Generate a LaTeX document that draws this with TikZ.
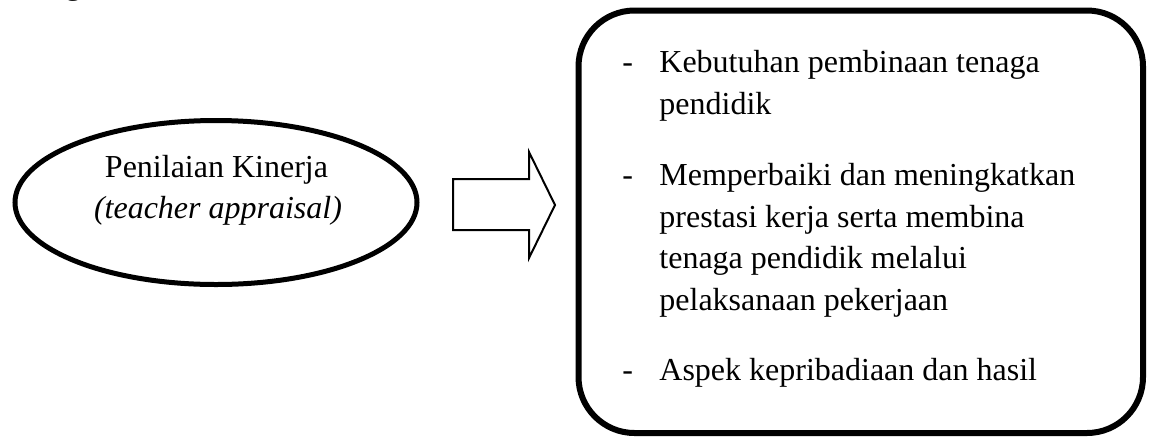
\documentclass[tikz,border=0pt]{standalone}
\usepackage{fontspec}
\setmainfont{Liberation Serif}
\usetikzlibrary{shapes.geometric}
\begin{document}
\begin{tikzpicture}[x=0.5pt,y=-0.5pt,
  ovalline/.style={line width=2.5pt},
  boxline/.style={line width=3pt},
  txt/.style={inner sep=0pt, font=\fontsize{16}{20}\selectfont},
  ltxt/.style={txt, anchor=base west},
]
\useasboundingbox (0,0) rectangle (1149,440);
\begin{scope}
\clip (0,0) rectangle (1149,440);
% cut-off descender of a line above the figure
\node[ltxt] (frag) at (65,-6) {g};
\end{scope}
% left oval
\node[ellipse, draw, ovalline, minimum width=201pt, minimum height=82pt, inner sep=0pt] (oval) at (216,202.5) {};
\node[txt, anchor=base] (t1) at (216.5,177) {Penilaian Kinerja};
\node[txt, anchor=base, font=\fontsize{16}{20}\selectfont\itshape] (t2) at (218,218) {(teacher appraisal)};
% block arrow
\coordinate (a1) at (453,179);
\coordinate (a2) at (529,179);
\coordinate (a3) at (529,152);
\coordinate (a4) at (555,205);
\coordinate (a5) at (529,258);
\coordinate (a6) at (529,230);
\coordinate (a7) at (453,230);
\draw[line width=1pt, line join=miter] (a1) -- (a2) -- (a3) -- (a4) -- (a5) -- (a6) -- (a7) -- cycle;
% right rounded box
\node[draw, boxline, rounded corners=28pt, minimum width=282.25pt, minimum height=211.25pt, inner sep=0pt] (box) at (860.75,221.75) {};
\node[ltxt] (d1) at (622,72.5) {-};
\node[ltxt] (l1) at (659,72.5) {Kebutuhan pembinaan tenaga};
\node[ltxt] (l2) at (659,114) {pendidik};
\node[ltxt] (d2) at (622,185.5) {-};
\node[ltxt] (l3) at (659,185.5) {Memperbaiki dan meningkatkan};
\node[ltxt] (l4) at (659,227) {prestasi kerja serta membina};
\node[ltxt] (l5) at (659,268.5) {tenaga pendidik melalui};
\node[ltxt] (l6) at (659,310) {pelaksanaan pekerjaan};
\node[ltxt] (d3) at (622,380.5) {-};
\node[ltxt] (l7) at (659,380.5) {Aspek kepribadiaan dan hasil};
\end{tikzpicture}
\end{document}
